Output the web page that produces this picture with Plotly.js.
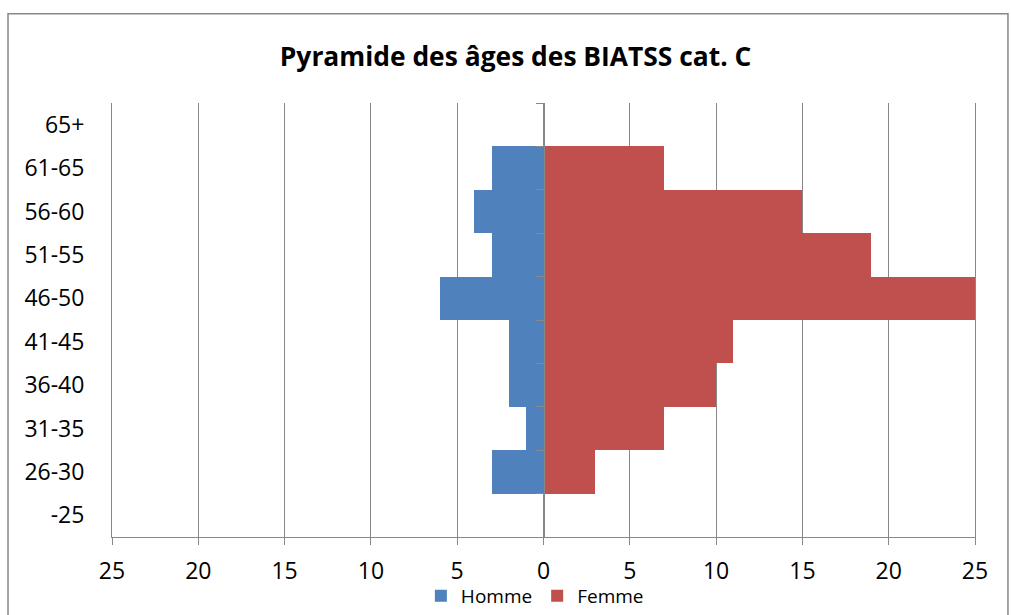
<!DOCTYPE html>
<html>
<head>
<meta charset="utf-8">
<script src="https://cdn.plot.ly/plotly-3.0.1.min.js"></script>
<style>html,body{margin:0;padding:0;background:#fff;}#chart{width:1011px;height:615px;}</style>
</head>
<body>
<div id="chart"></div>
<script>
const categories = ["-25", "26-30", "31-35", "36-40", "41-45", "46-50", "51-55", "56-60", "61-65", "65+"];
const homme = [0, 3, 1, 2, 2, 6, 3, 4, 3, 0];
const femme = [0, 3, 7, 10, 11, 25, 19, 15, 7, 0];
const xTickVals = [-25, -20, -15, -10, -5, 0, 5, 10, 15, 20, 25];
const xTickText = ["25", "20", "15", "10", "5", "0", "5", "10", "15", "20", "25"];

const idx = categories.map((c, i) => i);
const bounds = [];
for (let i = 0; i <= categories.length; i++) bounds.push(i - 0.5);

const gray = '#888888';
const font = "'Open Sans', 'Noto Sans', sans-serif";

const traces = [
  {type: 'bar', orientation: 'h', name: 'Homme', y: idx, x: homme.map(v => -v),
   marker: {color: '#4F81BD', line: {width: 0}}, hoverinfo: 'skip'},
  {type: 'bar', orientation: 'h', name: 'Femme', y: idx, x: femme,
   marker: {color: '#C0504D', line: {width: 0}}, hoverinfo: 'skip'},
  {type: 'scatter', mode: 'none', x: [0], y: [0], yaxis: 'y2', showlegend: false, hoverinfo: 'skip'}
];

const layout = {
  width: 1011, height: 615,
  margin: {l: 112, r: 36, t: 103, b: 78, autoexpand: false},
  paper_bgcolor: '#fff', plot_bgcolor: '#fff',
  barmode: 'relative', bargap: 0,
  font: {family: font, color: '#000'},
  title: {text: '<b>Pyramide des âges des BIATSS cat. C</b>', font: {size: 26.4, family: font, color: '#000'},
          xref: 'container', x: 0.51, xanchor: 'center', yref: 'container', y: 0.907, yanchor: 'middle'},
  xaxis: {range: [-25, 25], tickmode: 'array', tickvals: xTickVals, ticktext: xTickText,
          showgrid: true, gridcolor: gray, gridwidth: 1, zeroline: false, automargin: false,
          showline: true, linecolor: gray, linewidth: 1, ticks: 'outside', ticklen: 7, tickcolor: gray,
          tickfont: {size: 23, family: font}, ticklabelstandoff: 6, fixedrange: true},
  yaxis: {range: [-0.5, categories.length - 0.5], tickmode: 'array', tickvals: idx, ticktext: categories,
          showgrid: false, zeroline: false, showline: true, mirror: true, linecolor: gray, linewidth: 1,
          automargin: false,
          ticks: '', tickfont: {size: 23, family: font}, ticklabelstandoff: 22, fixedrange: true},
  yaxis2: {range: [-0.5, categories.length - 0.5], overlaying: 'y', anchor: 'free', position: 0.5,
           side: 'left', tickmode: 'array', tickvals: bounds, showticklabels: false, automargin: false,
           showgrid: false, zeroline: false, showline: true, linecolor: gray, linewidth: 1,
           ticks: 'outside', ticklen: 8, tickcolor: gray, fixedrange: true},
  legend: {orientation: 'h', x: 0.49, xanchor: 'center', y: -0.136, yanchor: 'middle',
           bgcolor: 'rgba(0,0,0,0)', borderwidth: 0,
           font: {size: 19, family: font}, itemwidth: 30, tracegroupgap: 0},
  shapes: [
    {type: 'rect', xref: 'paper', yref: 'paper', x0: -0.1205, x1: 1.0382, y0: -0.5, y1: 1.2055,
     line: {color: gray, width: 1.5}, fillcolor: 'rgba(0,0,0,0)', layer: 'below'}
  ],
  showlegend: true
};

Plotly.newPlot('chart', traces, layout, {displayModeBar: false, staticPlot: true});
</script>
</body>
</html>
